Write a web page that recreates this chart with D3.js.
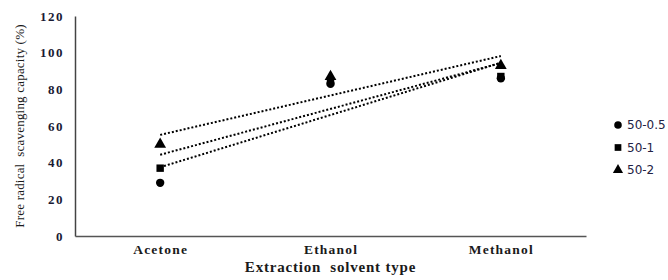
<!DOCTYPE html>
<html>
<head>
<meta charset="utf-8">
<script src="https://cdn.jsdelivr.net/npm/d3@7"></script>
<style>
  body { margin: 0; background: #fff; }
  svg { display: block; }
</style>
</head>
<body>
<div id="chart"></div>
<script>
const solvents = ['Acetone', 'Ethanol', 'Methanol']
const seriesNames = ['50-0.5', '50-1', '50-2']
const values0 = [29, 83, 86]   // 50-0.5
const values1 = [37, 84, 87]   // 50-1
const values2 = [50, 87, 93]   // 50-2
const yTicks = [0, 20, 40, 60, 80, 100, 120]

const width = 668
const height = 280
const margin = {top: 16, right: 82, bottom: 44, left: 75}

const svg = d3.select('#chart').append('svg')
    .attr('width', width)
    .attr('height', height)

const x = d3.scalePoint()
    .domain(solvents)
    .range([margin.left, width - margin.right])
    .padding(0.5)

const y = d3.scaleLinear()
    .domain([0, 120])
    .range([height - margin.bottom, margin.top])

const series = [
    {name: seriesNames[0], values: values0, symbol: d3.symbolCircle},
    {name: seriesNames[1], values: values1, symbol: d3.symbolSquare},
    {name: seriesNames[2], values: values2, symbol: d3.symbolTriangle}
]

// trend lines (least squares over category index 1..3)
function fit (vals) {
    const xs = vals.map((d, i) => i + 1)
    const mx = d3.mean(xs), my = d3.mean(vals)
    const b = d3.sum(xs, (xi, i) => (xi - mx) * (vals[i] - my)) / d3.sum(xs, xi => (xi - mx) ** 2)
    const a = my - b * mx
    return [a + b * 1, a + b * xs.length]
}

const plot = svg.append('g')

series.forEach(s => {
    const [v1, v2] = fit(s.values)
    plot.append('line')
        .attr('x1', x(solvents[0]))
        .attr('x2', x(solvents[solvents.length - 1]))
        .attr('y1', y(v1))
        .attr('y2', y(v2))
        .attr('stroke', '#000')
        .attr('stroke-width', 2)
        .attr('stroke-dasharray', '2,2')
})

series.forEach(s => {
    plot.selectAll(null)
        .data(s.values)
        .enter().append('path')
        .attr('d', d3.symbol().type(s.symbol).size(s.symbol === d3.symbolTriangle ? 60 : 55))
        .attr('transform', (d, i) => `translate(${x(solvents[i])}, ${y(d)})`)
        .attr('fill', '#000')
})

// axes
const yAxis = svg.append('g')
    .attr('transform', `translate(${margin.left}, 0)`)
    .call(d3.axisLeft(y).tickValues(yTicks).tickSize(0).tickPadding(11))
yAxis.select('.domain').attr('stroke', '#444').attr('stroke-width', 1.5)
yAxis.selectAll('text')
    .attr('font-family', '"Liberation Serif", serif')
    .attr('font-weight', 'bold')
    .attr('font-size', 13)
    .attr('letter-spacing', 1.5)
    .attr('fill', '#1a1a33')

const xAxis = svg.append('g')
    .attr('transform', `translate(0, ${height - margin.bottom})`)
    .call(d3.axisBottom(x).tickSize(0).tickPadding(8))
xAxis.select('.domain').attr('stroke', '#555').attr('stroke-width', 1.5)
xAxis.selectAll('text')
    .attr('font-family', '"Liberation Serif", serif')
    .attr('font-weight', 'bold')
    .attr('font-size', 13.5)
    .attr('letter-spacing', 1.2)
    .attr('fill', '#1a1a1a')

svg.append('text')
    .attr('x', x('Ethanol'))
    .attr('y', 272)
    .attr('text-anchor', 'middle')
    .attr('font-family', '"Liberation Serif", serif')
    .attr('font-weight', 'bold')
    .attr('font-size', 15)
    .attr('letter-spacing', 0.8)
    .attr('fill', '#1a1a1a')
    .attr('xml:space', 'preserve')
    .text('Extraction  solvent type')

svg.append('text')
    .attr('transform', 'translate(24, 126) rotate(-90)')
    .attr('text-anchor', 'middle')
    .attr('font-family', '"Liberation Serif", serif')
    .attr('font-size', 13)
    .attr('letter-spacing', 0.2)
    .attr('fill', '#1a1a1a')
    .attr('xml:space', 'preserve')
    .text('Free radical  scavenging capacity (%)')

// legend
const legend = svg.append('g')
    .attr('transform', 'translate(618, 125)')
series.forEach((s, i) => {
    const g = legend.append('g').attr('transform', `translate(0, ${i * 22.5})`)
    g.append('path')
        .attr('d', d3.symbol().type(s.symbol).size(45))
        .attr('fill', '#000')
    g.append('text')
        .attr('x', 9)
        .attr('y', 4)
        .attr('font-family', '"DejaVu Sans", sans-serif')
        .attr('font-size', 12)
        .attr('fill', '#222244')
        .text(s.name)
})
</script>
</body>
</html>
